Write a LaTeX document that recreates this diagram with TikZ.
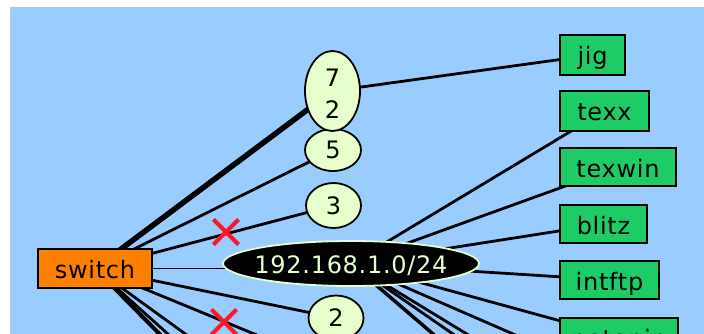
\documentclass[tikz,border=0pt]{standalone}
\usepackage{fontspec}
\setmainfont[LetterSpace=3]{DejaVu Sans}
\usetikzlibrary{shapes.geometric,shapes.misc}
\definecolor{bgblue}{RGB}{153,204,255}
\definecolor{boxgreen}{RGB}{30,204,102}
\definecolor{swOrange}{RGB}{255,128,0}
\definecolor{netyellow}{RGB}{230,255,204}
\definecolor{xred}{RGB}{255,20,40}
\pgfdeclarelayer{bglayer}
\pgfdeclarelayer{edgelayer}
\pgfsetlayers{bglayer,edgelayer,main}
\begin{document}
\begin{tikzpicture}[x=1pt,y=-1pt,
  font=\fontsize{24}{32}\selectfont,
  host/.style={draw=black,line width=2pt,fill=boxgreen,rectangle,inner sep=0pt,text height=21pt,text depth=1pt},
  switchbox/.style={draw=black,line width=2pt,fill=swOrange,rectangle,inner sep=0pt,text height=21pt,text depth=1pt},
  vlan/.style={draw=black,line width=1.8pt,fill=netyellow,ellipse,inner sep=0pt},
  digit/.style={text height=17pt,text depth=0pt},
  subnet/.style={ellipse,fill=black,draw=netyellow,line width=1.8pt,text=netyellow,inner sep=0pt,text height=20pt,text depth=0pt},
  link/.style={line width=2.8pt,black},
  fatlink/.style={line width=5.5pt,black},
  thinlink/.style={line width=1.5pt,black},
  xmark/.style={cross out,draw=xred,line width=4.2pt,minimum size=21pt,inner sep=0pt}
]
\useasboundingbox (0,0) rectangle (704,334);
\begin{pgfonlayer}{bglayer}
  \fill[white] (0,0) rectangle (704,334);
  \fill[bgblue] (10,7) rectangle (704,334);
\end{pgfonlayer}

% hosts
\node[host,minimum width=65pt,minimum height=40pt] (jig) at (592.5,55) {jig};
\node[host,minimum width=89pt,minimum height=40pt] (texx) at (604.5,111) {texx};
\node[host,minimum width=116pt,minimum height=38pt] (texwin) at (618,167) {texwin};
\node[host,minimum width=87pt,minimum height=38pt] (blitz) at (603.5,224) {blitz};
\node[host,minimum width=99pt,minimum height=38pt] (intftp) at (609.5,280) {intftp};
\node[host,minimum width=118pt,minimum height=38pt] (netapip) at (619,337) {netapip};

% switch
\node[switchbox,minimum width=114pt,minimum height=39pt] (sw) at (95,268.5) {switch};

% vlans
\node[vlan,digit,minimum width=56pt,minimum height=42pt] (v5) at (333,150) {5};
\node[vlan,align=center,minimum width=55pt,minimum height=80pt] (v72) at (332.5,91) {\rule{0pt}{23.5pt}7\\2};
\node[vlan,digit,minimum width=55pt,minimum height=45pt] (v3) at (333.5,205.5) {3};
\node[vlan,digit,minimum width=55pt,minimum height=45pt] (v2) at (336,318) {2};
\node[subnet,minimum width=256pt,minimum height=45pt] (net) at (351,263.5) {\makebox[0pt]{192.168.1.0/24}};

% off-picture ends
\coordinate (offA) at (195,370);
\coordinate (offA2) at (208,370);
\coordinate (offB) at (235,370);
\coordinate (offC) at (342,370);
\coordinate (offN1) at (475,370);
\coordinate (offN2) at (505,370);
\coordinate (offN3) at (526,370);
\coordinate (offN4) at (596,370);

\begin{pgfonlayer}{edgelayer}
  \draw[fatlink] (sw.center) -- (v72.center);
  \draw[link] (sw.center) -- (v5.center);
  \draw[link] (sw.center) -- (v3.center);
  \draw[link] (sw.center) -- (v2.center);
  \draw[thinlink] (sw.center) -- (sw.center -| net.center);
  \draw[line width=4pt] (sw.center) -- (offA);
  \draw[link] (sw.center) -- (offA2);
  \draw[link] (sw.center) -- (offB);
  \draw[link] (sw.center) -- (offC);
  \draw[link] (v72.center) -- (jig.center);
  \draw[link] (net.center) -- (texx.center);
  \draw[link] (net.center) -- (texwin.center);
  \draw[link] (net.center) -- (blitz.center);
  \draw[link] (net.center) -- (intftp.center);
  \draw[link] (net.center) -- (netapip.center);
  \draw[line width=3.5pt] (net.center) -- (offN1);
  \draw[link] (net.center) -- (offN2);
  \draw[link] (net.center) -- (offN3);
  \draw[link] (net.center) -- (offN4);
\end{pgfonlayer}

% cut marks
\node[xmark] (x1) at (226,232) {};
\node[xmark] (x2) at (224,322) {};
\end{tikzpicture}
\end{document}
